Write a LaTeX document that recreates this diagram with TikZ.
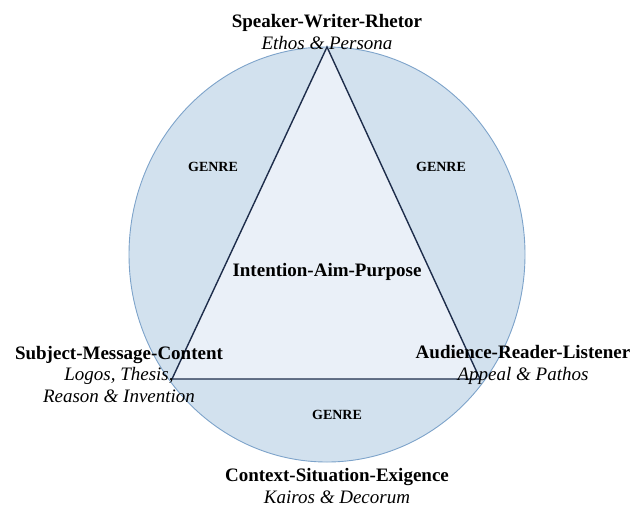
\documentclass[tikz,border=0pt]{standalone}
\usepackage{fontspec}
\setmainfont{Liberation Serif}
\definecolor{genreblue}{RGB}{210,225,238}
\definecolor{coreblue}{RGB}{234,240,248}
\definecolor{rimblue}{RGB}{125,163,202}
\definecolor{edgenavy}{RGB}{30,45,75}
\tikzset{
  zone/.style={fill=genreblue, draw=rimblue, line width=0.9pt},
  core/.style={fill=coreblue, draw=edgenavy, line width=1.4pt, line join=miter},
  pole/.style={align=center, anchor=base, inner sep=0pt,
    font=\fontsize{19}{21.5}\selectfont},
  genre/.style={anchor=base, inner sep=0pt,
    font=\fontsize{14}{16}\selectfont\bfseries}
}

\begin{document}
\begin{tikzpicture}[x=1pt,y=-1pt]
  \useasboundingbox (0,0) rectangle (636,507);
  % outer ring and inscribed triangle
  \draw[zone] (327,254.5) ellipse [x radius=198, y radius=207.5];
  \coordinate (apex) at (327,47);
  \coordinate (lft) at (172,379);
  \coordinate (rgt) at (480,379);
  \draw[core] (apex) -- (lft) -- (rgt) -- cycle;
  % genre labels
  \node[genre] (genreL) at (213,171) {GENRE};
  \node[genre] (genreR) at (441,171) {GENRE};
  \node[genre] (genreB) at (337,419) {GENRE};
  \node[pole] (aim) at (327,276) {\textbf{Intention-Aim-Purpose}};
  % corners (base = last line)
  \node[pole] (speaker) at (327,49)
    {\textbf{Speaker-Writer-Rhetor}\\\textit{Ethos \& Persona}};
  \node[pole] (subject) at (119,402)
    {\textbf{Subject-Message-Content}\\\textit{Logos, Thesis,}\\\textit{Reason \& Invention}};
  \node[pole] (audience) at (523,380)
    {\textbf{Audience-Reader-Listener}\\\textit{Appeal \& Pathos}};
  \node[pole] (context) at (337,503)
    {\textbf{Context-Situation-Exigence}\\\textit{Kairos \& Decorum}};
\end{tikzpicture}
\end{document}
